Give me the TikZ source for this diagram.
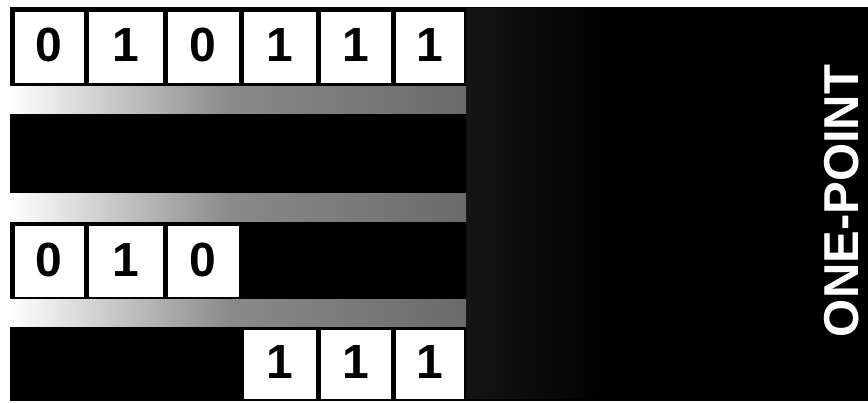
\documentclass[tikz,border=0pt]{standalone}
\usepackage{fontspec}
\setmainfont{Liberation Sans}
\definecolor{opInk}{HTML}{000000}
\definecolor{opPaper}{HTML}{FFFFFF}
\definecolor{opDither}{HTML}{8A8A8A}
\definecolor{opDitherDark}{HTML}{6A6A6A}
\tikzset{
  op ground/.style={fill=opInk},
  op cell/.style={fill=opPaper},
  op band/.style={left color=opPaper, right color=opDither},
  op band far/.style={left color=opDither, right color=opDitherDark},
  op haze/.style={left color=opInk!92!opPaper, right color=opInk},
  op digit/.style={font=\fontsize{48}{48}\selectfont\bfseries, text=opInk, inner sep=0pt},
  op title/.style={font=\fontsize{49}{49}\selectfont\bfseries, text=opPaper, rotate=90, inner sep=2pt},
}

\begin{document}
\begin{tikzpicture}[x=1pt, y=-1pt]
  \useasboundingbox (0,0) rectangle (868,403);
  % black ground behind everything
  \fill[op ground] (10,7) rectangle (868,401);
  % halftone spill just right of the strings
  \shade[op haze] (466,9) rectangle (610,399);
  % dithered bands between the rows
  \foreach \ya/\yb in {87/114, 194/222, 300/327} {
    \shade[op band] (10,\ya) rectangle (230,\yb);
    \shade[op band far] (230,\ya) rectangle (466,\yb);
  }
  % parent string
  \foreach \xa/\xb/\d [count=\i] in {12/86.5/0, 86.5/165/1, 165/241/0, 241/318/1, 318/393/1, 393/466/1} {
    \fill[op cell] (\xa+2.5,12) rectangle (\xb-2.5,83);
    \node[op digit] (par\i) at ({(\xa+\xb)/2},45) {\d};
  }
  % head of the string, left of the cut
  \foreach \xa/\xb/\d [count=\i] in {12/86.5/0, 86.5/165/1, 165/241/0} {
    \fill[op cell] (\xa+2.5,226) rectangle (\xb-2.5,297);
    \node[op digit] (head\i) at ({(\xa+\xb)/2},259.5) {\d};
  }
  % tail of the string, right of the cut
  \foreach \xa/\xb/\d [count=\i] in {241/318/1, 318/393/1, 393/466/1} {
    \fill[op cell] (\xa+2.5,330) rectangle (\xb-2.5,399);
    \node[op digit] (tail\i) at ({(\xa+\xb)/2},362) {\d};
  }
  \node[op title] (label) at (842,201) {ONE-POINT};
\end{tikzpicture}
\end{document}
